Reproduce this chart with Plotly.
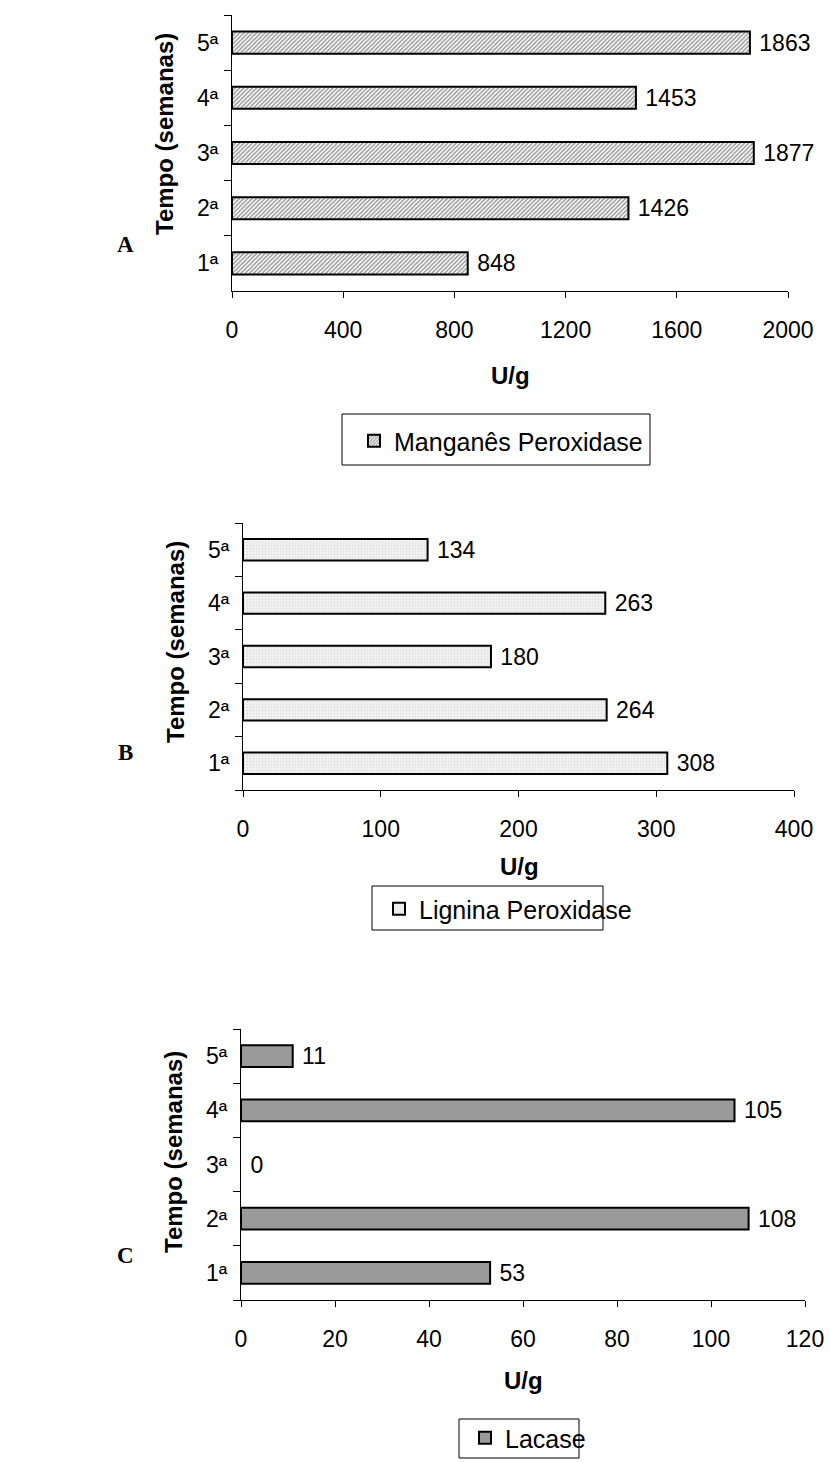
import plotly.graph_objects as go

# Dados: atividade enzimática (U/g) por semana
semanas = ["1ª", "2ª", "3ª", "4ª", "5ª"]
manganes_peroxidase = [848, 1426, 1877, 1453, 1863]
lignina_peroxidase = [308, 264, 180, 263, 134]
lacase = [53, 108, 0, 105, 11]

ticks_a = [0, 400, 800, 1200, 1600, 2000]
ticks_b = [0, 100, 200, 300, 400]
ticks_c = [0, 20, 40, 60, 80, 100, 120]

W, H = 830, 1463
FONT = "Arial, Liberation Sans, sans-serif"
SERIF = "Times New Roman, Liberation Serif, serif"


def px(x):
    return x / W


def py(y):
    return 1 - y / H


def outline_widths(values, w=2):
    # sem contorno em barras de comprimento nulo
    return [0 if v == 0 else w for v in values]


fig = go.Figure()

bar_common = dict(
    orientation="h",
    width=0.4,
    textposition="outside",
    texttemplate="\u00a0%{x}",
    constraintext="none",
    cliponaxis=False,
    textfont=dict(family=FONT, size=23, color="black"),
)

fig.add_trace(go.Bar(
    y=semanas, x=manganes_peroxidase, name="Manganês Peroxidase",
    xaxis="x", yaxis="y", legend="legend",
    marker=dict(color="white",
                pattern=dict(shape="/", fgcolor="#333333", bgcolor="white",
                             size=3, solidity=0.5),
                line=dict(color="black", width=outline_widths(manganes_peroxidase))),
    **bar_common))

fig.add_trace(go.Bar(
    y=semanas, x=lignina_peroxidase, name="Lignina Peroxidase",
    xaxis="x2", yaxis="y2", legend="legend2",
    marker=dict(color="white",
                pattern=dict(shape=".", fgcolor="#c8c8c8", bgcolor="#f4f4f4",
                             size=3, solidity=0.3),
                line=dict(color="black", width=outline_widths(lignina_peroxidase))),
    **bar_common))

fig.add_trace(go.Bar(
    y=semanas, x=lacase, name="Lacase",
    xaxis="x3", yaxis="y3", legend="legend3",
    marker=dict(color="#9a9a9a",
                line=dict(color="black", width=outline_widths(lacase))),
    **bar_common))

# Geometria dos três painéis (em pixels)
panels = [
    dict(x0=232, x1=788, y0=15, y1=291, rng=[0, 2000], ticks=ticks_a),
    dict(x0=243, x1=794, y0=523, y1=790, rng=[0, 400], ticks=ticks_b),
    dict(x0=241, x1=805, y0=1029, y1=1300, rng=[0, 120], ticks=ticks_c),
]

axis_font = dict(family=FONT, size=23, color="black")
layout = {}
for i, p in enumerate(panels):
    sfx = "" if i == 0 else str(i + 1)
    layout["xaxis" + sfx] = dict(
        domain=[px(p["x0"]), px(p["x1"])],
        anchor="y" + sfx,
        range=p["rng"],
        tickvals=p["ticks"],
        ticks="outside", ticklen=6, tickcolor="black", tickwidth=1,
        showline=True, linecolor="black", linewidth=1,
        showgrid=False, zeroline=False,
        tickfont=axis_font,
        ticklabelstandoff=12,
        automargin=False,
        fixedrange=True,
    )
    layout["yaxis" + sfx] = dict(
        domain=[py(p["y1"]), py(p["y0"])],
        anchor="x" + sfx,
        type="category",
        categoryorder="array", categoryarray=semanas,
        range=[-0.5, 4.5],
        tickson="boundaries",
        ticks="outside", ticklen=7, tickcolor="black", tickwidth=1,
        showline=True, linecolor="black", linewidth=1,
        showgrid=False, zeroline=False,
        tickfont=axis_font,
        ticklabelstandoff=8,
        automargin=False,
        fixedrange=True,
    )

legend_common = dict(
    orientation="v", xanchor="left", yanchor="middle",
    bgcolor="rgba(0,0,0,0)", borderwidth=0, itemwidth=30,
    font=dict(family=FONT, size=25, color="black"),
)
layout["legend"] = dict(x=px(354), y=py(441), **legend_common)
layout["legend2"] = dict(x=px(379), y=py(909), **legend_common)
layout["legend3"] = dict(x=px(465), y=py(1438), **legend_common)

# Caixas das legendas
legend_boxes = [(342, 414, 650, 465), (372, 886, 603, 930), (459, 1419, 579, 1458)]
shapes = [
    dict(type="rect", xref="paper", yref="paper",
         x0=px(a), y0=py(d), x1=px(c), y1=py(b),
         line=dict(color="black", width=1), fillcolor="rgba(0,0,0,0)")
    for a, b, c, d in legend_boxes
]

annotations = []
# Títulos dos eixos
for xt, yt in [(510, 375), (519, 867), (523, 1380)]:
    annotations.append(dict(text="<b>U/g</b>", x=px(xt), y=py(yt),
                            xref="paper", yref="paper", showarrow=False,
                            xanchor="center", yanchor="middle",
                            font=dict(family=FONT, size=24, color="black")))
for xt, yt in [(165, 134), (175, 642), (173, 1152)]:
    annotations.append(dict(text="<b>Tempo (semanas)</b>", x=px(xt), y=py(yt),
                            xref="paper", yref="paper", showarrow=False,
                            textangle=-90, xanchor="center", yanchor="middle",
                            font=dict(family=FONT, size=24, color="black")))
# Letras dos painéis
for letter, yt in [("A", 245), ("B", 752), ("C", 1255)]:
    annotations.append(dict(text="<b>%s</b>" % letter, x=px(125), y=py(yt),
                            xref="paper", yref="paper", showarrow=False,
                            xanchor="center", yanchor="middle",
                            font=dict(family=SERIF, size=23, color="black")))

fig.update_layout(
    width=W, height=H,
    margin=dict(l=0, r=0, t=0, b=0, autoexpand=False),
    paper_bgcolor="white", plot_bgcolor="white",
    showlegend=True,
    shapes=shapes,
    annotations=annotations,
    bargap=0.6,
    **layout,
)

fig.write_html("out.html")
